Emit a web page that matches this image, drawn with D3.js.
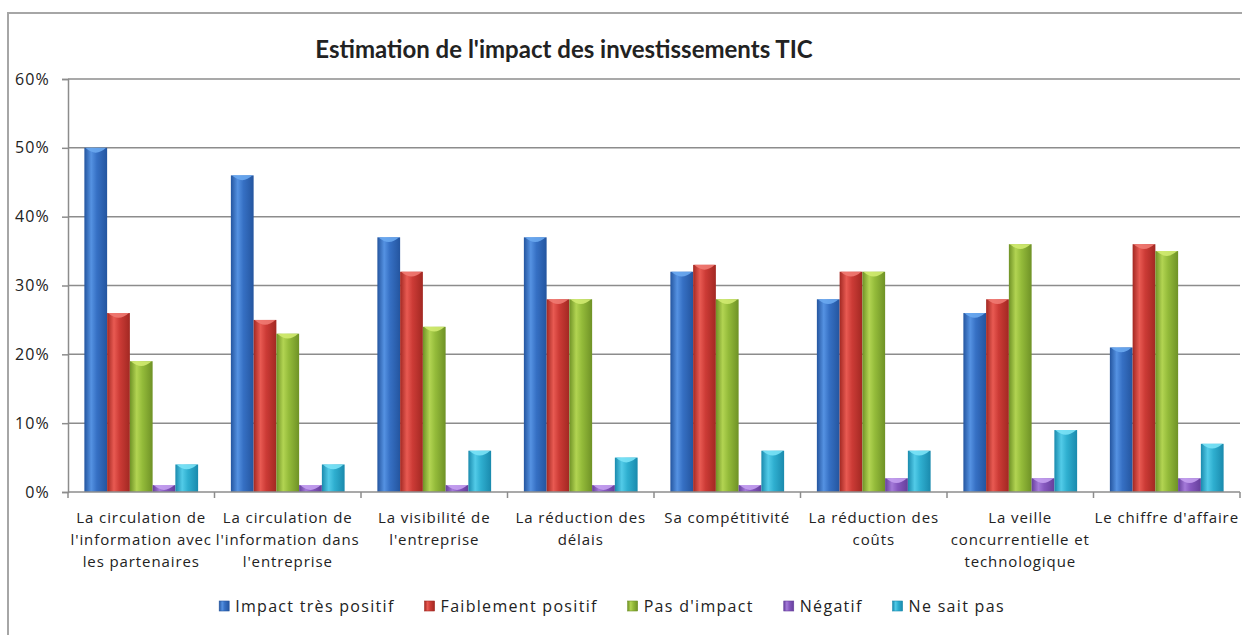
<!DOCTYPE html>
<html><head><meta charset="utf-8">
<script src="https://cdn.jsdelivr.net/npm/d3@7/dist/d3.min.js"></script>
<style>body{margin:0;background:#fff}svg{display:block}text{font-family:"Open Sans",Lato,sans-serif;fill:#222}</style>
</head><body>
<svg id="c" width="1242" height="635"></svg>
<script>
const title = "Estimation de l'impact des investissements TIC";
const categories = [
  "La circulation de\nl'information avec\nles partenaires",
  "La circulation de\nl'information dans\nl'entreprise",
  "La visibilité de\nl'entreprise",
  "La réduction des\ndélais",
  "Sa compétitivité",
  "La réduction des\ncoûts",
  "La veille\nconcurrentielle et\ntechnologique",
  "Le chiffre d'affaire"
];
const seriesNames = ["Impact très positif","Faiblement positif","Pas d'impact","Négatif","Ne sait pas"];
const impactTresPositif = [50,46,37,37,32,28,26,21];
const faiblementPositif = [26,25,32,28,33,32,28,36];
const pasDImpact       = [19,23,24,28,28,32,36,35];
const negatif          = [1,1,1,1,1,2,2,2];
const neSaitPas        = [4,4,6,5,6,6,9,7];
const yTicks = [0,10,20,30,40,50,60];
const seriesValues = [impactTresPositif,faiblementPositif,pasDImpact,negatif,neSaitPas];

const colors = [
  {base:"#3670c4",light:"#5592e2",dark:"#24559f",cap:"#6aa8f0"},
  {base:"#cc3b36",light:"#e85a52",dark:"#a22822",cap:"#f07a72"},
  {base:"#94bb3a",light:"#b2d452",dark:"#6f9226",cap:"#d0ea70"},
  {base:"#8658bf",light:"#a47ad9",dark:"#663f9c",cap:"#c4a0f0"},
  {base:"#2fafd0",light:"#52cbe8",dark:"#1a8aad",cap:"#7ae2f6"}
];

const svg = d3.select("#c");
const defs = svg.append("defs");
colors.forEach((c,i)=>{
  const g = defs.append("linearGradient").attr("id","g"+i).attr("x1","0").attr("x2","1").attr("y1","0").attr("y2","0");
  g.append("stop").attr("offset","0%").attr("stop-color",c.dark);
  g.append("stop").attr("offset","30%").attr("stop-color",c.light);
  g.append("stop").attr("offset","55%").attr("stop-color",c.base);
  g.append("stop").attr("offset","100%").attr("stop-color",c.dark);
});

// chart border
svg.append("path").attr("d","M8,635 L8,13 L1242,13").attr("fill","none").attr("stroke","#a6a6a6").attr("stroke-width",2);

const plot = {left:68, right:1240, top:79, bottom:492};
const x = d3.scaleBand().domain(d3.range(categories.length)).range([plot.left,plot.right]).paddingInner(0).paddingOuter(0);
const inner = d3.scaleBand().domain(d3.range(seriesNames.length)).range([0,x.bandwidth()]).paddingOuter(0.72).paddingInner(0);
const y = d3.scaleLinear().domain([0,60]).range([plot.bottom,plot.top]);

// gridlines
svg.append("g").selectAll("line").data(yTicks.filter(d=>d>0)).join("line")
  .attr("x1",plot.left).attr("x2",plot.right).attr("y1",d=>y(d)).attr("y2",d=>y(d))
  .attr("stroke","#8c8c8c").attr("stroke-width",1.5);

// y axis
const yAxis = d3.axisLeft(y).tickValues(yTicks).tickFormat(d=>d+"%").tickSize(6).tickPadding(12);
const ya = svg.append("g").attr("transform",`translate(${plot.left},0)`).call(yAxis);
ya.select(".domain").attr("stroke","#8c8c8c").attr("stroke-width",1.5);
ya.selectAll(".tick line").attr("stroke","#8c8c8c").attr("stroke-width",1.5);
ya.selectAll("text").style("font-size","16px").style("letter-spacing","1.2px").attr("fill","#333").style("font-family","'Open Sans', sans-serif");

// bars
const gBars = svg.append("g");
seriesValues.forEach((vals,si)=>{
  const c = colors[si];
  const grp = gBars.append("g");
  vals.forEach((v,ci)=>{
    const x0 = x(ci)+inner(si), w = inner.bandwidth(), top = y(v);
    grp.append("rect").attr("x",x0).attr("y",top).attr("width",w).attr("height",plot.bottom-top)
      .attr("fill",`url(#g${si})`);
    const capH = Math.min(6,(plot.bottom-top));
    grp.append("path")
      .attr("d",`M${x0+1},${top} L${x0+w-1},${top} Q${x0+w*0.5},${top+capH*1.6} ${x0+1},${top} Z`)
      .attr("fill",c.cap).attr("opacity",0.9);
  });
});

// x axis
const xa = svg.append("g").attr("transform",`translate(0,${plot.bottom})`);
xa.append("line").attr("x1",plot.left).attr("x2",plot.right).attr("stroke","#8c8c8c").attr("stroke-width",1.5);
xa.selectAll(".tk").data(d3.range(categories.length+1)).join("line").attr("class","tk")
  .attr("x1",d=>plot.left+d*x.step()).attr("x2",d=>plot.left+d*x.step()).attr("y1",0).attr("y2",6)
  .attr("stroke","#8c8c8c").attr("stroke-width",1.5);
categories.forEach((lab,ci)=>{
  const t = xa.append("text").attr("text-anchor","middle").attr("x",x(ci)+x.bandwidth()/2).attr("y",31)
    .style("font-size","15px").style("letter-spacing","0.9px").attr("fill","#222");
  lab.split("\n").forEach((ln,li)=>{
    t.append("tspan").attr("x",x(ci)+x.bandwidth()/2).attr("dy",li?22:0).text(ln);
  });
});

// title
const tt = svg.append("text").attr("x",564).attr("y",58).attr("text-anchor","middle")
  .style("font-family","Lato, sans-serif")
  .style("font-size","24px").style("font-weight","bold").attr("fill","#111").text(title);

// legend
const leg = svg.append("g");
let lx = 0;
seriesNames.forEach((n,i)=>{
  const g = leg.append("g");
  g.append("rect").attr("x",0).attr("y",-11).attr("width",10).attr("height",10).attr("fill",`url(#g${i})`).attr("stroke",colors[i].dark).attr("stroke-width",0.6);
  const t = g.append("text").attr("x",16).attr("y",0).style("font-size","16px").style("letter-spacing","1.3px").attr("fill","#222").text(n);
  const w = 16 + t.node().getComputedTextLength();
  g.attr("transform",`translate(${lx},0)`);
  lx += w + 30;
});
const totalW = lx - 30;
leg.attr("transform",`translate(${612 - totalW/2},612)`);
</script>
</body></html>
